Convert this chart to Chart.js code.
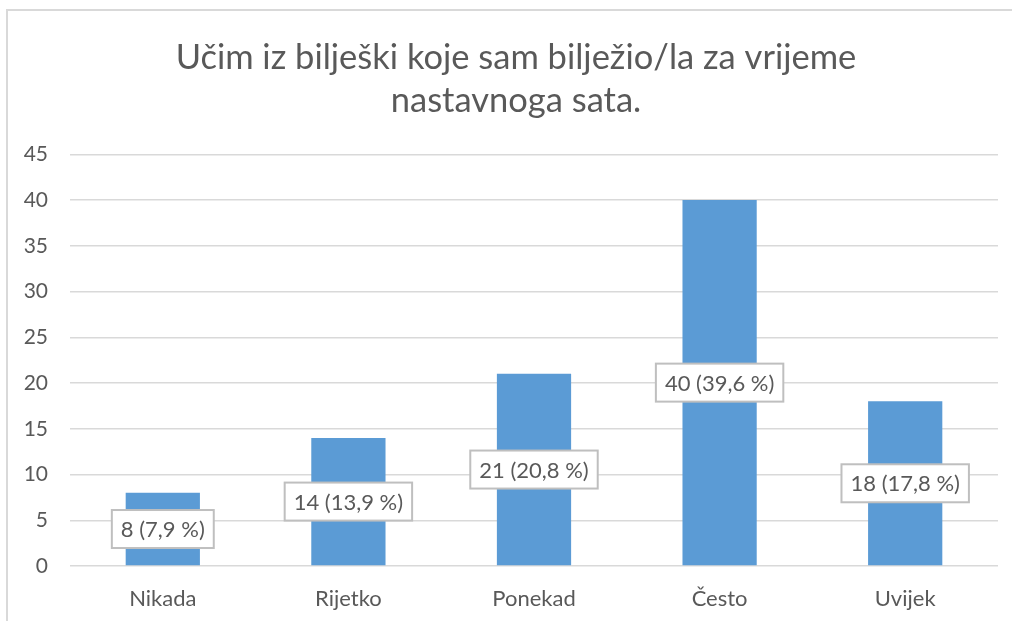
<!DOCTYPE html>
<html>
<head>
<meta charset="utf-8">
<script src="https://cdn.jsdelivr.net/npm/chart.js@4"></script>
<style>
  html, body { margin: 0; padding: 0; background: #ffffff; }
  #wrap { position: relative; width: 1012px; height: 621px; overflow: hidden; }
  #frame { position: absolute; left: 6px; top: 9px; width: 1100px; height: 700px;
           border-top: 2px solid #d9d9d9; border-left: 2px solid #d9d9d9; }
  canvas { position: absolute; left: 0; top: 0; }
</style>
</head>
<body>
<div id="wrap">
  <div id="frame"></div>
  <canvas id="c" width="1012" height="621"></canvas>
</div>
<script>
const titleLines = ["Učim iz bilješki koje sam bilježio/la za vrijeme", "nastavnoga sata."];
const categories = ["Nikada", "Rijetko", "Ponekad", "Često", "Uvijek"];
const counts = [8, 14, 21, 40, 18];
const percents = ["7,9", "13,9", "20,8", "39,6", "17,8"];
const yMin = 0, yMax = 45, yStep = 5;

const FONT = "Lato, 'Open Sans', sans-serif";
const TEXT = "#595959";

const boxLabels = {
  id: "boxLabels",
  afterDatasetsDraw(chart) {
    const ctx = chart.ctx;
    const meta = chart.getDatasetMeta(0);
    ctx.save();
    ctx.font = "22px " + FONT;
    ctx.textAlign = "center";
    ctx.textBaseline = "middle";
    meta.data.forEach((bar, i) => {
      const txt = counts[i] + " (" + percents[i] + " %)";
      const w = ctx.measureText(txt).width + 18;
      const h = 38;
      const cx = bar.x;
      const cy = (bar.y + bar.base) / 2;
      ctx.fillStyle = "#ffffff";
      ctx.fillRect(cx - w / 2, cy - h / 2, w, h);
      ctx.strokeStyle = "#bfbfbf";
      ctx.lineWidth = 2;
      ctx.strokeRect(cx - w / 2, cy - h / 2, w, h);
      ctx.fillStyle = TEXT;
      ctx.fillText(txt, cx, cy + 1);
    });
    ctx.restore();
  }
};

// shift the title's box so it is centred like the reference
const titleShift = {
  id: "titleShift",
  afterLayout(chart) {
    if (chart.titleBlock) { chart.titleBlock.left += 34; }
  }
};

new Chart(document.getElementById("c"), {
  type: "bar",
  data: {
    labels: categories,
    datasets: [{
      data: counts,
      backgroundColor: "#5b9bd5",
      borderWidth: 0,
      barPercentage: 0.4,
      categoryPercentage: 1.0
    }]
  },
  options: {
    responsive: false,
    animation: false,
    devicePixelRatio: 1,
    layout: { padding: { top: 36, right: 14, bottom: 0, left: 0 } },
    plugins: {
      legend: { display: false },
      tooltip: { enabled: false },
      title: {
        display: true,
        text: titleLines,
        color: TEXT,
        font: { family: FONT, size: 34.5, weight: "normal", lineHeight: 1.25 },
        padding: { top: 0, bottom: 32 }
      }
    },
    scales: {
      x: {
        afterFit(s) { s.height = 55; },
        grid: { display: false },
        border: { display: false },
        ticks: { color: TEXT, font: { family: FONT, size: 22 }, padding: 12 }
      },
      y: {
        min: yMin, max: yMax,
        afterFit(s) { s.width = 70; },
        grid: { color: "#d9d9d9", lineWidth: 1.5, drawTicks: false },
        border: { display: false },
        ticks: { stepSize: yStep, color: TEXT, font: { family: FONT, size: 21 }, padding: 22 }
      }
    }
  },
  plugins: [boxLabels, titleShift]
});
</script>
</body>
</html>
